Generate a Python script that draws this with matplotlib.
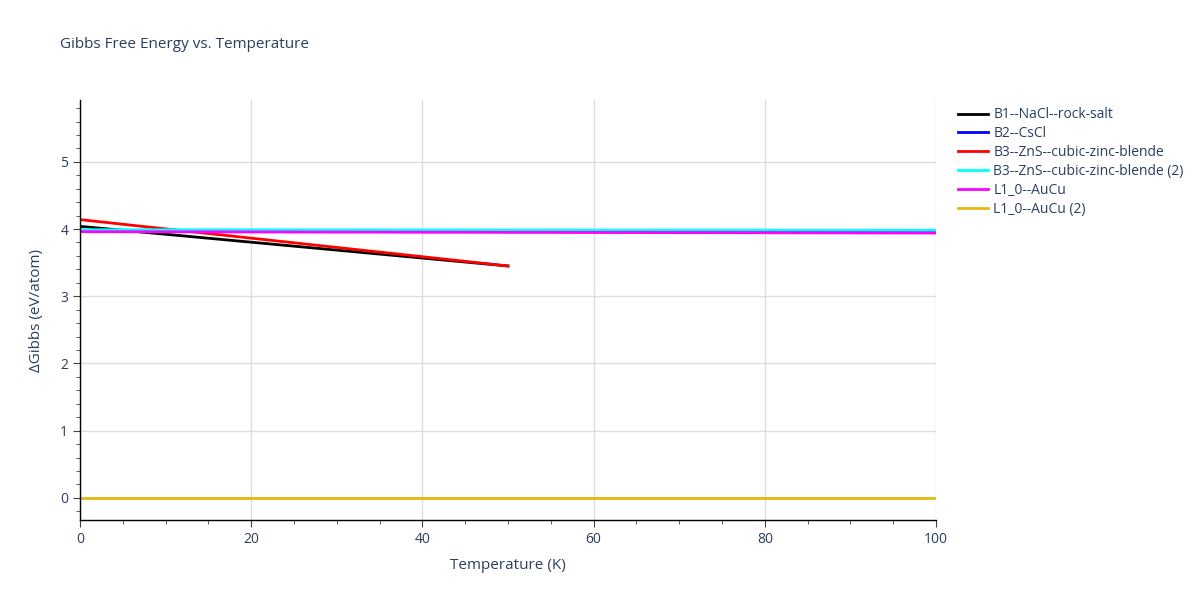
import numpy as np
import matplotlib.pyplot as plt
from matplotlib.ticker import MultipleLocator

plt.rcParams['font.family'] = ['Open Sans', 'DejaVu Sans']

# series data (temperature in K, delta Gibbs in eV/atom)
names = ['B1--NaCl--rock-salt', 'B2--CsCl', 'B3--ZnS--cubic-zinc-blende',
         'B3--ZnS--cubic-zinc-blende (2)', 'L1_0--AuCu', 'L1_0--AuCu (2)']
colors = ['black', 'blue', 'red', 'cyan', 'magenta', '#e6b912']

t_b1 = [0, 50]
g_b1 = [4.04, 3.45]
t_b2 = [0, 100]
g_b2 = [3.97, 3.96]
t_b3 = [0, 50]
g_b3 = [4.14, 3.45]
t_b3b = [0, 100]
g_b3b = [3.99, 3.98]
t_l10 = [0, 100]
g_l10 = [3.96, 3.94]
t_l10b = [0, 100]
g_l10b = [0.0, 0.0]

series = [(t_b1, g_b1), (t_b2, g_b2), (t_b3, g_b3),
          (t_b3b, g_b3b), (t_l10, g_l10), (t_l10b, g_l10b)]

fig = plt.figure(figsize=(12, 6), dpi=100)
ax = fig.add_axes([80/1200, 80/600, 856/1200, 420/600])

for (t, g), name, c in zip(series, names, colors):
    ax.plot(t, g, color=c, lw=2, label=name)

ax.set_xlim(0, 100)
ax.set_ylim(-0.33, 5.92)
ax.xaxis.set_major_locator(MultipleLocator(20))
ax.xaxis.set_minor_locator(MultipleLocator(5))
ax.yaxis.set_major_locator(MultipleLocator(1))
ax.yaxis.set_minor_locator(MultipleLocator(0.2))
ax.grid(True, which='major', color='#dddddd', lw=1)
ax.set_axisbelow(True)
for s in ['top', 'right']:
    ax.spines[s].set_visible(False)
for s in ['left', 'bottom']:
    ax.spines[s].set_color('black')
    ax.spines[s].set_linewidth(1)
ax.tick_params(which='major', length=5, color='#444444', labelcolor='#2a3f5f', labelsize=10)
ax.tick_params(which='minor', length=3, color='#444444')
ax.set_xlabel('Temperature (K)', color='#2a3f5f', fontsize=11, labelpad=8)
ax.set_ylabel('ΔGibbs (eV/atom)', color='#2a3f5f', fontsize=11, labelpad=12)

fig.text(60/1200, 1 - 45/600, 'Gibbs Free Energy vs. Temperature', color='#2a3f5f',
         fontsize=11, va='center')

leg = ax.legend(loc='upper left', bbox_to_anchor=(1.011, 1.012), frameon=False,
                fontsize=10, handlelength=2.2, handletextpad=0.35, labelspacing=0.28)
for txt in leg.get_texts():
    txt.set_color('#2a3f5f')

fig.savefig('out.png', dpi=100)
